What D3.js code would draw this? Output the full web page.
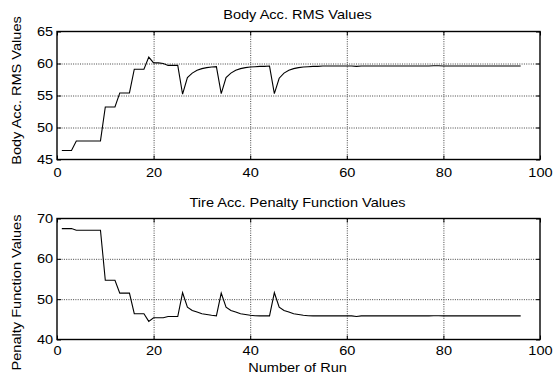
<!DOCTYPE html>
<html>
<head>
<meta charset="utf-8">
<script src="https://cdn.jsdelivr.net/npm/d3@7/dist/d3.min.js"></script>
<style>
body { margin: 0; background: #fff; }
text { font-family: Arial, "Liberation Sans", Helvetica, sans-serif; fill: #000; }
</style>
</head>
<body>
<div id="chart"></div>
<script>
// values, one per run (runs 1..96)
var bodyRms = [
    46.4, 46.4, 46.4, 47.9, 47.9, 47.9, 47.9, 47.9, 47.9, 53.2,
    53.2, 53.2, 55.4, 55.4, 55.4, 59.1, 59.1, 59.1, 61.0, 60.1,
    60.1, 60.0, 59.7, 59.7, 59.7, 55.2, 57.8, 58.5, 58.95, 59.2,
    59.35, 59.45, 59.5, 55.3, 57.8, 58.5, 58.95, 59.2, 59.35, 59.45,
    59.5, 59.55, 59.55, 59.6, 55.3, 57.7, 58.5, 58.95, 59.2, 59.35,
    59.45, 59.5, 59.55, 59.55, 59.6, 59.6, 59.6, 59.6, 59.6, 59.6,
    59.6, 59.55, 59.6, 59.6, 59.6, 59.6, 59.6, 59.6, 59.6, 59.6,
    59.6, 59.6, 59.6, 59.6, 59.6, 59.6, 59.6, 59.65, 59.65, 59.6,
    59.6, 59.6, 59.6, 59.6, 59.6, 59.6, 59.6, 59.6, 59.6, 59.6,
    59.6, 59.6, 59.6, 59.6, 59.6, 59.6
];

var tirePenalty = [
    67.5, 67.5, 67.5, 67.1, 67.1, 67.1, 67.1, 67.1, 67.1, 54.7,
    54.7, 54.7, 51.5, 51.5, 51.5, 46.4, 46.4, 46.4, 44.5, 45.4,
    45.4, 45.4, 45.7, 45.7, 45.7, 51.6, 48.0, 47.2, 46.8, 46.4,
    46.2, 46.0, 45.85, 51.5, 48.0, 47.2, 46.8, 46.4, 46.2, 46.0,
    45.9, 45.85, 45.85, 45.85, 51.6, 48.0, 47.2, 46.8, 46.4, 46.2,
    46.0, 45.9, 45.85, 45.85, 45.85, 45.85, 45.85, 45.85, 45.85, 45.85,
    45.85, 45.7, 45.85, 45.85, 45.85, 45.85, 45.85, 45.85, 45.85, 45.85,
    45.85, 45.85, 45.85, 45.85, 45.85, 45.85, 45.85, 45.9, 45.9, 45.85,
    45.85, 45.85, 45.85, 45.85, 45.85, 45.85, 45.85, 45.85, 45.85, 45.85,
    45.85, 45.85, 45.85, 45.85, 45.85, 45.85
];

var xTicks = [0, 20, 40, 60, 80, 100];
var bodyTicks = [45, 50, 55, 60, 65];
var tireTicks = [40, 50, 60, 70];

var textStretch = "scale(1.12,1)";

var svg = d3.select("#chart").append("svg")
    .attr("width", 553)
    .attr("height", 379);

svg.append("rect").attr("width", 553).attr("height", 379).attr("fill", "#fff");

Panel = function(_opts) {
    this.opts = _opts;
    this.initVis();
};

Panel.prototype.initVis = function() {
    var vis = this, o = vis.opts;

    vis.x = d3.scaleLinear().domain([0, 100]).range([57, 540]);
    vis.y = d3.scaleLinear().domain(o.domain).range([o.bottom, o.top]);

    vis.g = svg.append("g");

    var w = vis.x.range()[1] - vis.x.range()[0],
        h = o.bottom - o.top;

    // dotted grid, inner lines only
    vis.g.append("g")
        .attr("class", "grid")
        .attr("transform", "translate(0," + o.bottom + ")")
        .call(d3.axisBottom(vis.x).tickValues(xTicks.slice(1, -1)).tickSize(-h).tickFormat(""));
    vis.g.append("g")
        .attr("class", "grid")
        .attr("transform", "translate(" + vis.x.range()[0] + ",0)")
        .call(d3.axisLeft(vis.y).tickValues(o.ticks.slice(1, -1)).tickSize(-w).tickFormat(""));
    vis.g.selectAll(".grid .domain").remove();
    vis.g.selectAll(".grid line")
        .attr("stroke", "#444")
        .attr("stroke-width", 1)
        .attr("stroke-dasharray", "1,1.3");

    // series
    vis.line = d3.line()
        .x(function(d, i) { return vis.x(i + 1); })
        .y(function(d) { return vis.y(d); });

    vis.g.append("path")
        .datum(o.values)
        .attr("fill", "none")
        .attr("stroke", "#000")
        .attr("stroke-width", 1.1)
        .attr("d", vis.line);

    // inward ticks on all four sides
    var bottomAxis = vis.g.append("g")
        .attr("transform", "translate(0," + o.bottom + ")")
        .call(d3.axisBottom(vis.x).tickValues(xTicks).tickSizeInner(-4).tickSizeOuter(0).tickPadding(o.xPad));
    vis.g.append("g")
        .attr("transform", "translate(0," + o.top + ")")
        .call(d3.axisTop(vis.x).tickValues(xTicks).tickSizeInner(-4).tickSizeOuter(0).tickFormat(""));
    var leftAxis = vis.g.append("g")
        .attr("transform", "translate(" + vis.x.range()[0] + ",0)")
        .call(d3.axisLeft(vis.y).tickValues(o.ticks).tickSizeInner(-4).tickSizeOuter(0).tickPadding(3.5));
    vis.g.append("g")
        .attr("transform", "translate(" + vis.x.range()[1] + ",0)")
        .call(d3.axisRight(vis.y).tickValues(o.ticks).tickSizeInner(-4).tickSizeOuter(0).tickFormat(""));

    vis.g.selectAll(".domain").remove();
    vis.g.selectAll(".tick line").filter(function() { return !this.parentNode.parentNode.classList.contains("grid"); })
        .attr("stroke", "#000");
    [bottomAxis, leftAxis].forEach(function(a) {
        a.selectAll("text")
            .attr("font-size", 13)
            .attr("font-family", "Arial, 'Liberation Sans', sans-serif")
            .attr("fill", "#000")
            .attr("transform", textStretch);
    });

    // box
    vis.g.append("rect")
        .attr("x", vis.x.range()[0])
        .attr("y", o.top)
        .attr("width", w)
        .attr("height", h)
        .attr("fill", "none")
        .attr("stroke", "#000")
        .attr("stroke-width", 1.4);

    // title
    vis.g.append("text")
        .attr("text-anchor", "middle")
        .attr("font-size", 13)
        .attr("transform", "translate(" + 297.5 + "," + o.titleY + ") " + textStretch)
        .text(o.title);

    // y label
    vis.g.append("text")
        .attr("text-anchor", "middle")
        .attr("font-size", 13)
        .attr("transform", "translate(20.5," + o.labelY + ") rotate(-90) " + textStretch)
        .text(o.yLabel);
};

new Panel({
    values: bodyRms, domain: [45, 65], ticks: bodyTicks,
    top: 31.5, bottom: 159.5, xPad: 8,
    title: "Body Acc. RMS Values", titleY: 19,
    yLabel: "Body Acc. RMS Values", labelY: 90.5
});

new Panel({
    values: tirePenalty, domain: [40, 70], ticks: tireTicks,
    top: 218.5, bottom: 339.5, xPad: 6,
    title: "Tire Acc. Penalty Function Values", titleY: 206.5,
    yLabel: "Penalty Function Values", labelY: 292.5
});

svg.append("text")
    .attr("text-anchor", "middle")
    .attr("font-size", 13)
    .attr("transform", "translate(297.5,371.5) " + textStretch)
    .text("Number of Run");
</script>
</body>
</html>
